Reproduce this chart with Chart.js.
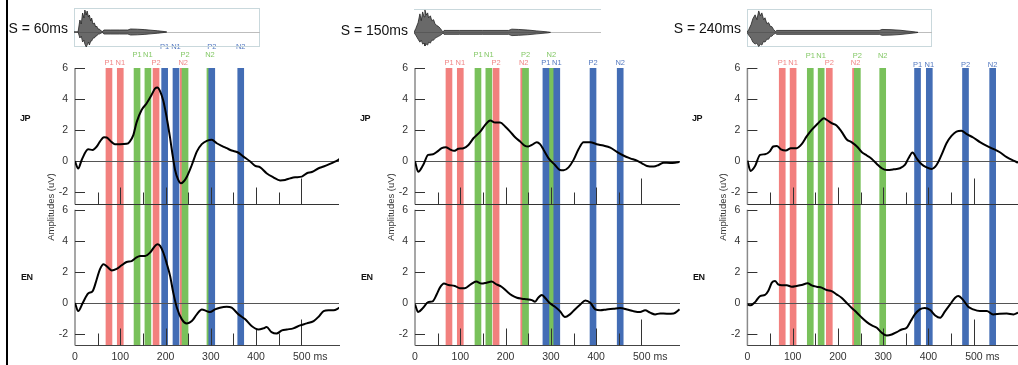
<!DOCTYPE html>
<html><head><meta charset="utf-8">
<script src="https://cdn.jsdelivr.net/npm/chart.js@4.4.1/dist/chart.umd.min.js"></script>
<style>
html,body{margin:0;padding:0;background:#fff;width:1018px;height:365px;overflow:hidden;position:relative;font-family:"Liberation Sans",Arial,Helvetica,sans-serif;}
.abs{position:absolute;}
.slabel{font-size:14px;color:#111;white-space:nowrap;text-align:right;width:90px;line-height:16px;}
.lang{font-size:9px;font-weight:bold;color:#111;letter-spacing:-0.6px;line-height:12px;}
.amp{font-size:9.5px;color:#333;white-space:nowrap;text-align:center;width:90px;line-height:12px;transform:rotate(-90deg);}
.leftbar{position:absolute;left:6px;top:0;width:2px;height:365px;background:#000;}
</style></head>
<body>
<div class="leftbar"></div>
<script>
// ---------- data ----------
const S_LABELS = ['S = 60ms', 'S = 150ms', 'S = 240ms'];
const ROW_LABELS = ['JP', 'EN'];
const Y_TITLE = 'Amplitudes (uV)';
const COMPONENTS = ['P1', 'N1', 'P2', 'N2'];
const TIME_TICKS = [0, 100, 200, 300, 400, 500];
const TIME_MARKS = [50, 100, 150, 200, 250, 300, 350, 400, 450, 500];
const Y_TICKS = [-2, 0, 2, 4, 6];

// component latencies (ms): syllable 1 (red), 2 (green), 3 (blue)
const P60_RED = [75, 100, 179, 239];
const P60_GREEN = [137, 161, 243, 298];
const P60_BLUE = [198, 223, 302, 366];
const P150_RED = [75, 100, 179, 240];
const P150_GREEN = [139, 163, 244, 301];
const P150_BLUE = [289, 313, 393, 453];
const P240_RED = [77, 101, 181, 239];
const P240_GREEN = [139, 163, 243, 299];
const P240_BLUE = [376, 402, 482, 542];

// ERP curves (ms, uV)
const P60_JP_T = [0,7,15,29,39,48,55,64,70,81,88,99,114,121,129,136,147,158,169,177,182,188,195,200,205,210,215,221,228,234,241,247,258,269,280,291,302,313,324,335,346,359,372,387,398,409,423,438,453,464,475,486,501,512,523,538,549,563,574,584];
const P60_JP_V = [0,-0.47,0.1,0.77,0.73,0.95,1.27,1.55,1.53,1.23,1.1,1.1,1.12,1.27,1.7,2.5,3.3,3.72,4.26,4.69,4.75,4.5,3.9,3.2,2.4,1.5,0.5,-0.56,-1.2,-1.42,-1.27,-1.0,-0.24,0.62,1.1,1.31,1.38,1.16,0.99,0.84,0.69,0.58,0.3,-0.02,-0.3,-0.39,-0.77,-1.03,-1.23,-1.2,-1.1,-1.03,-0.99,-0.77,-0.69,-0.45,-0.34,-0.17,-0.02,0.13];
const P60_EN_T = [0,7,17,29,39,48,55,63,71,81,92,103,114,125,135,144,155,166,177,182,188,195,202,210,217,225,236,247,258,269,280,291,298,309,320,335,346,361,376,390,405,416,423,434,445,457,468,482,497,512,527,538,549,560,571,584];
const P60_EN_V = [0,-0.52,0,0.62,0.77,1.53,2.17,2.5,2.34,2.1,2.2,2.43,2.64,2.7,2.92,3.03,3.03,3.25,3.68,3.78,3.68,3.25,2.6,1.74,0.67,-0.3,-1.05,-1.31,-1.16,-0.73,-0.41,-0.52,-0.58,-0.41,-0.3,-0.24,-0.3,-0.73,-1.05,-1.48,-1.7,-1.63,-1.55,-1.87,-1.96,-1.76,-1.7,-1.63,-1.44,-1.31,-1.16,-0.88,-0.52,-0.47,-0.47,-0.3];
const P150_JP_T = [0,7,18,29,40,49,59,68,77,86,96,107,118,129,144,155,166,177,188,199,210,221,232,243,250,258,269,276,284,295,309,320,328,339,350,361,372,387,401,416,431,445,460,475,490,501,512,527,538,549,563,574,584];
const P150_JP_V = [0,-0.67,-0.24,0.41,0.45,0.62,0.84,0.9,0.77,0.67,0.8,0.84,1.05,1.48,1.91,2.34,2.62,2.49,2.49,2.24,1.91,1.55,1.27,0.99,0.95,1.05,1.23,1.1,0.73,0.19,-0.24,-0.56,-0.58,-0.39,0.09,0.77,1.23,1.23,1.1,1.01,0.88,0.62,0.37,0.19,0.04,-0.13,-0.3,-0.34,-0.24,-0.09,-0.11,-0.09,-0.04];
const P150_EN_T = [0,7,18,29,39,48,55,64,74,88,99,110,123,135,147,158,169,180,191,202,214,225,236,247,258,265,272,280,287,298,309,320,331,342,353,365,376,387,398,409,423,438,453,468,482,497,508,519,530,541,556,571,584];
const P150_EN_V = [-0.09,-0.58,-0.3,0.06,0.11,0.56,0.99,1.25,1.16,1.1,0.95,0.95,1.2,1.38,1.25,1.31,1.38,1.2,1.05,0.77,0.49,0.34,0.28,0.24,0.19,0.09,0.34,0.52,0.34,-0.02,-0.24,-0.52,-0.9,-0.73,-0.41,-0.09,0.17,0.02,-0.41,-0.47,-0.41,-0.37,-0.32,-0.41,-0.52,-0.58,-0.47,-0.62,-0.73,-0.67,-0.69,-0.67,-0.41];
const P240_JP_T = [0,7,17,28,39,49,57,65,74,85,96,109,120,131,142,155,164,169,175,186,197,208,219,230,242,253,264,275,286,297,308,323,337,348,356,365,374,385,396,407,418,429,440,451,462,473,485,499,514,529,543,558,573,588,598];
const P240_JP_V = [0.04,-0.62,-0.3,0.41,0.45,0.62,0.95,0.99,0.77,0.69,0.84,0.84,1.1,1.6,2.02,2.41,2.67,2.77,2.67,2.45,2.3,1.91,1.42,1.23,0.95,0.58,0.37,0.15,-0.17,-0.45,-0.56,-0.52,-0.45,-0.24,0.19,0.56,0.19,-0.19,-0.39,-0.49,-0.24,0.41,1.16,1.63,1.91,1.96,1.74,1.53,1.23,0.99,0.8,0.58,0.26,0.04,-0.09];
const P240_EN_T = [0,7,17,28,39,46,54,61,68,76,87,98,109,120,133,142,153,164,175,186,197,208,219,230,242,253,264,275,286,297,308,319,330,341,352,361,370,381,392,404,415,426,437,448,459,466,477,488,499,514,529,543,558,573,588,598];
const P240_EN_V = [-0.09,-0.15,0.06,0.45,0.52,0.77,1.31,1.42,1.2,1.14,1.14,1.05,1.1,1.16,1.27,1.14,1.05,0.99,0.84,0.77,0.56,0.34,0.02,-0.3,-0.62,-0.95,-1.23,-1.44,-1.59,-1.91,-2.09,-2.02,-1.87,-1.7,-1.59,-1.16,-0.73,-0.41,-0.32,-0.45,-0.8,-0.95,-0.52,-0.09,0.34,0.45,0.19,-0.24,-0.41,-0.52,-0.52,-0.73,-0.69,-0.67,-0.73,-0.62];

// stimulus waveform envelopes (ms, relative amplitude)
const W60_T  = [0,9,13,16,19,22,24,27,29,32,34,37,39,42,45,48,50,53,56,60,64,66,80,100,119,125,140,155,170,185,201,205];
const W60_UP = [0,0,12,8,19,14,22,17,21,15,17,11,14,8,9,5,6,3,3,1,0.5,2,2,2,2,3,2.8,2.4,1.8,1.2,0.4,0];
const W60_DN = [0,0,-6,-4,-10,-8,-12,-15,-13,-10,-13,-9,-9,-6,-6,-4,-4,-2,-2,-1,-0.5,-2,-2,-2,-2,-3,-2.8,-2.4,-1.8,-1.2,-0.4,0];
const W150_T  = [0,4,9,13,16,19,22,24,27,30,32,36,39,43,46,50,54,58,61,64,66,100,150,208,215,230,250,270,294,300];
const W150_UP = [0,4,10,19,12,21,16,23,18,20,15,17,12,13,9,7,6,4,2,0.6,2,2,2,2,3.3,3,2.4,1.5,0.5,0];
const W150_DN = [0,-3,-7,-10,-8,-12,-11,-14,-12,-13,-10,-11,-8,-8,-6,-5,-4,-3,-2,-0.6,-2,-2,-2,-2,-3.3,-3,-2.4,-1.5,-0.5,0];
const W240_T  = [0,4,9,13,18,22,26,30,33,37,40,44,48,52,55,59,63,66,120,200,294,300,320,340,360,375,380];
const W240_UP = [0,3,8,14,18,13,22,17,20,13,15,9,10,6,6,3,1,2,2,2,2,3,2.8,2.2,1.2,0.4,0];
const W240_DN = [0,-3,-6,-10,-12,-11,-14.5,-12,-13,-9,-10,-7,-7,-4,-4,-2,-1,-2,-2,-2,-2,-3,-2.8,-2.2,-1.2,-0.4,0];

// ---------- styling / layout ----------
const FONT = '"Liberation Sans", Arial, Helvetica, sans-serif';
const RED = '#f2807e', GREEN = '#79c15b', BLUE = '#436db5';
const RED_TXT = '#f08585', GREEN_TXT = '#84c866', BLUE_TXT = '#5479c0';

const PANELS = [
  { dx: 0, canvasLeft: 0, canvasWidth: 340, padRight: 1, axisW: 75, xMax: 583,
    jpT: P60_JP_T, jpV: P60_JP_V, enT: P60_EN_T, enV: P60_EN_V,
    red: P60_RED, green: P60_GREEN, blue: P60_BLUE,
    rows: { red: 63, green: 54.5, blue: 47 },
    waveT: W60_T, waveUp: W60_UP, waveDn: W60_DN,
    box: { left: 74, top: 8, width: 186, height: 39, border: 'all' }, sRight: 68, sMid: 28 },
  { dx: 340, canvasLeft: 340, canvasWidth: 340, padRight: 0, axisW: 75, xMax: 585,
    jpT: P150_JP_T, jpV: P150_JP_V, enT: P150_EN_T, enV: P150_EN_V,
    red: P150_RED, green: P150_GREEN, blue: P150_BLUE,
    rows: { red: 63, green: 54.5, blue: 63 },
    waveT: W150_T, waveUp: W150_UP, waveDn: W150_DN,
    box: { left: 414, top: 9, width: 187, height: 38, border: 'top' }, sRight: 408, sMid: 29.5 },
  { dx: 672, canvasLeft: 672, canvasWidth: 346, padRight: 0, axisW: 75.4, xMax: 598,
    jpT: P240_JP_T, jpV: P240_JP_V, enT: P240_EN_T, enV: P240_EN_V,
    red: P240_RED, green: P240_GREEN, blue: P240_BLUE,
    rows: { red: 63, green: 56, blue: 65 },
    waveT: W240_T, waveUp: W240_UP, waveDn: W240_DN,
    box: { left: 747, top: 9, width: 185, height: 38, border: 'all' }, sRight: 741, sMid: 28 }
];

const zip = (t, v) => t.map((x, i) => ({ x, y: v[i] }));

function seg(ctx, x1, y1, x2, y2) { ctx.beginPath(); ctx.moveTo(x1, y1); ctx.lineTo(x2, y2); ctx.stroke(); }

function drawDeco(chart) {
  const { ctx, chartArea: a, scales } = chart;
  const xs = scales.x;
  ctx.save();
  ['yJP', 'yEN'].forEach(id => {
    const y = scales[id];
    const bottom = Math.round(y.bottom) + 0.5;
    ctx.strokeStyle = '#555'; ctx.lineWidth = 1;
    const y0 = Math.round(y.getPixelForValue(0)) + 0.5;
    seg(ctx, a.left, y0, a.right, y0);
    ctx.strokeStyle = '#8a8a8a'; ctx.lineWidth = 1.5;
    seg(ctx, a.left, y.getPixelForValue(6), a.left, bottom);
    ctx.strokeStyle = '#333'; ctx.lineWidth = 1;
    Y_TICKS.forEach(v => { const py = Math.round(y.getPixelForValue(v)) + 0.5; seg(ctx, a.left, py, a.left + 10, py); });
    if (id === 'yJP') { ctx.strokeStyle = '#333'; seg(ctx, a.left, bottom, a.right, bottom); }
    ctx.strokeStyle = '#333'; ctx.lineWidth = 1;
    TIME_MARKS.forEach(t => {
      const px = Math.round(xs.getPixelForValue(t)) + 0.5;
      const h = t === 500 ? 26 : (t % 100 === 0 ? 17 : 12);
      seg(ctx, px, bottom, px, bottom - h);
    });
  });
  ctx.restore();
}

const decoPlugin = {
  id: 'deco',
  beforeDatasetsDraw(chart) { chart.$decoDone = false; },
  beforeDatasetDraw(chart, args) {
    if (!chart.$decoDone && chart.data.datasets[args.index].type === 'line') {
      drawDeco(chart); chart.$decoDone = true;
    }
  },
  afterDraw(chart) {
    const p = chart.options.plugins.deco;
    const { ctx, scales: { x } } = chart;
    ctx.save();
    ctx.font = '7.5px ' + FONT;
    ctx.textAlign = 'center'; ctx.textBaseline = 'middle';
    [[p.red, RED_TXT, p.rows.red], [p.green, GREEN_TXT, p.rows.green], [p.blue, BLUE_TXT, p.rows.blue]].forEach(([times, col, row]) => {
      ctx.fillStyle = col;
      times.forEach((t, i) => ctx.fillText(COMPONENTS[i], x.getPixelForValue(t), row));
    });
    ctx.restore();
  }
};

function buildMain(p) {
  const cv = document.createElement('canvas');
  cv.width = p.canvasWidth; cv.height = 365;
  cv.style.cssText = `position:absolute;left:${p.canvasLeft}px;top:0;width:${p.canvasWidth}px;height:365px;`;
  document.body.appendChild(cv);
  const bandSet = (times, color, label, order) => ({
    type: 'bar', label, data: times.map(t => ({ x: t, y: [0, 1] })),
    xAxisID: 'x', yAxisID: 'yBand', backgroundColor: color, borderWidth: 0,
    barThickness: 6, grouped: false, order });
  const lineSet = (t, v, axis, label) => ({
    type: 'line', label, data: zip(t, v), xAxisID: 'x', yAxisID: axis,
    borderColor: '#000', borderWidth: 2, pointRadius: 0, fill: false,
    cubicInterpolationMode: 'monotone', order: 0 });
  const yScale = (min, max, weight) => ({
    type: 'linear', position: 'left', stack: 'amp', stackWeight: weight, min, max,
    grid: { display: false, drawTicks: false }, border: { display: false },
    ticks: { font: { family: FONT, size: 10.5 }, color: '#333', padding: 7, callback: v => String(v) },
    afterBuildTicks: s => { s.ticks = Y_TICKS.map(v => ({ value: v })); },
    afterFit: s => { s.width = p.axisW; }
  });
  new Chart(cv, {
    type: 'line',
    data: { datasets: [
      lineSet(p.jpT, p.jpV, 'yJP', ROW_LABELS[0]),
      lineSet(p.enT, p.enV, 'yEN', ROW_LABELS[1]),
      bandSet(p.blue, BLUE, 'Syllable 3', 1),
      bandSet(p.green, GREEN, 'Syllable 2', 2),
      bandSet(p.red, RED, 'Syllable 1', 3)
    ] },
    options: {
      responsive: false, animation: false, devicePixelRatio: 1, events: [],
      layout: { padding: { top: 68, right: p.padRight, bottom: 0, left: 0 } },
      plugins: { legend: { display: false }, tooltip: { enabled: false },
        deco: { red: p.red, green: p.green, blue: p.blue, rows: p.rows } },
      scales: {
        x: { type: 'linear', position: 'bottom', min: 0, max: p.xMax, offset: false,
          grid: { display: false, drawTicks: false }, border: { display: true, color: '#444', width: 1 },
          ticks: { font: { family: FONT, size: 10.5 }, color: '#333', padding: 6, maxRotation: 0, autoSkip: false,
            callback: v => v === 500 ? '      500 ms' : String(v) },
          afterBuildTicks: s => { s.ticks = TIME_TICKS.map(v => ({ value: v })); },
          afterFit: s => { s.height = 20; } },
        yEN: yScale(-2.7, 6.37, 9.07),
        yJP: yScale(-2.75, 6, 8.75),
        yBand: { type: 'linear', position: 'left', display: false, min: 0, max: 1 }
      }
    },
    plugins: [decoPlugin]
  });
}

const centerLine = {
  id: 'centerLine',
  beforeDatasetsDraw(chart) {
    const { ctx, chartArea: a, scales: { y } } = chart;
    ctx.save(); ctx.strokeStyle = '#bdbdbd'; ctx.lineWidth = 1;
    const py = Math.round(y.getPixelForValue(0)) + 0.5;
    seg(ctx, a.left, py, a.right, py); ctx.restore();
  }
};

function buildWave(p) {
  const b = p.box;
  const box = document.createElement('div');
  const bc = '#c9d8dc';
  box.style.cssText = `position:absolute;left:${b.left}px;top:${b.top}px;width:${b.width}px;height:${b.height}px;box-sizing:border-box;` +
    (b.border === 'all' ? `border:1px solid ${bc};` : `border-top:1px solid ${bc};`);
  document.body.appendChild(box);
  const cv = document.createElement('canvas');
  cv.width = b.width; cv.height = b.height;
  cv.style.cssText = `position:absolute;left:${b.left}px;top:${b.top}px;width:${b.width}px;height:${b.height}px;`;
  document.body.appendChild(cv);
  new Chart(cv, {
    type: 'line',
    data: { datasets: [
      { label: 'upper', data: zip(p.waveT, p.waveUp), borderColor: '#222', borderWidth: 0.8,
        backgroundColor: 'rgba(55,55,55,0.75)', pointRadius: 0, fill: '+1', tension: 0 },
      { label: 'lower', data: zip(p.waveT, p.waveDn), borderColor: '#222', borderWidth: 0.8,
        pointRadius: 0, fill: false, tension: 0 }
    ] },
    options: {
      responsive: false, animation: false, devicePixelRatio: 1, events: [],
      layout: { padding: 0 },
      plugins: { legend: { display: false }, tooltip: { enabled: false } },
      scales: {
        x: { type: 'linear', min: 0, max: 411, display: false },
        y: { type: 'linear', min: -15, max: 24, display: false }
      }
    },
    plugins: [centerLine]
  });
}

function addText(cls, txt, css) {
  const d = document.createElement('div');
  d.className = 'abs ' + cls; d.textContent = txt; d.style.cssText += css;
  document.body.appendChild(d);
}

PANELS.forEach((p, i) => {
  buildMain(p);
  buildWave(p);
  addText('slabel', S_LABELS[i], `left:${p.sRight - 90}px;top:${p.sMid - 8}px;`);
  addText('lang', ROW_LABELS[0], `left:${p.dx + 20}px;top:${112}px;`);
  addText('lang', ROW_LABELS[1], `left:${p.dx + 21}px;top:${271}px;`);
  addText('amp', Y_TITLE, `left:${p.dx + 51 - 45}px;top:${207 - 6}px;`);
});
</script>
</body></html>
